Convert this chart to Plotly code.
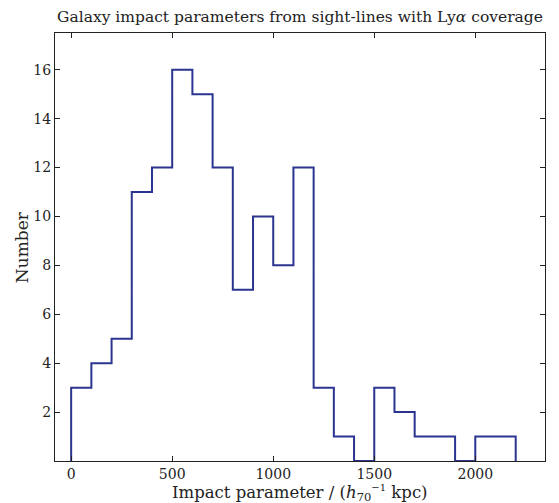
import numpy as np
import plotly.graph_objects as go

bin_edges = list(range(0, 2300, 100))  # 0..2200
counts = [3, 4, 5, 11, 12, 16, 15, 12, 7, 10, 8, 12, 3, 1, 0, 3, 2, 1, 1, 0, 1, 1]
xticks = [0, 500, 1000, 1500, 2000]
yticks = [2, 4, 6, 8, 10, 12, 14, 16]

# step outline of histogram
xs = [bin_edges[0]]
ys = [0]
for i, c in enumerate(counts):
    xs += [bin_edges[i], bin_edges[i + 1]]
    ys += [c, c]
xs.append(bin_edges[-1])
ys.append(0)

fig = go.Figure(go.Scatter(x=xs, y=ys, mode="lines",
                           line=dict(color="#2b3590", width=2), hoverinfo="skip"))

font = "DejaVu Serif, serif"
axis_common = dict(showline=True, linecolor="#222", linewidth=1, mirror="ticks",
                   ticks="inside", ticklen=5, tickcolor="#222", showgrid=False,
                   zeroline=False, automargin=False,
                   tickfont=dict(family=font, size=14, color="#222"))

# page body has an 8px margin, so the figure is sized/offset to compensate
fig.update_layout(
    width=551, height=495,
    margin=dict(l=47, r=14, t=25, b=42),
    plot_bgcolor="white", paper_bgcolor="white",
    showlegend=False,
    title=dict(text="Galaxy impact parameters from sight-lines with Ly<i>α</i> coverage",
               x=0.53, xanchor="center", y=0.982, yanchor="middle",
               font=dict(family=font, size=15.5, color="#222")),
    xaxis=dict(range=[-80, 2345], tickvals=xticks, **axis_common),
    yaxis=dict(range=[0, 17.5], tickvals=yticks, **axis_common),
    annotations=[
        dict(text="Impact parameter / (<i>h</i><sub>70</sub><sup><span style='font-size:10px'>−1</span></sup> kpc)",
             xref="paper", yref="paper", x=0.5, y=-0.075, xanchor="center", yanchor="middle",
             showarrow=False, font=dict(family=font, size=16.5, color="#222")),
        dict(text="Number", xref="paper", yref="paper", x=-0.067, y=0.5, textangle=-90,
             xanchor="center", yanchor="middle", showarrow=False,
             font=dict(family=font, size=17, color="#222")),
    ],
)

fig.write_html("out.html")
